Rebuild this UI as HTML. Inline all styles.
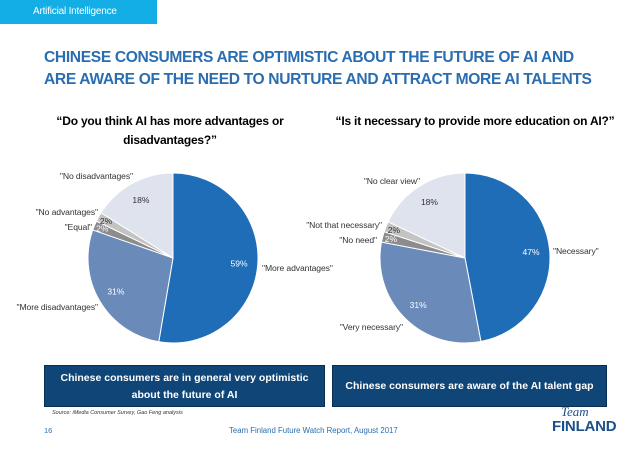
<!DOCTYPE html>
<html><head><meta charset="utf-8"><style>
body{margin:0;width:638px;height:452px;background:#fff;position:relative;overflow:hidden;font-family:"Liberation Sans",sans-serif}
.a{position:absolute}
</style></head><body>
<div class="a" style="left:0;top:0;width:157px;height:24px;background:#14aee6;color:#fff;font-size:10px;letter-spacing:-0.2px;line-height:24px;padding-left:33px;box-sizing:border-box">Artificial Intelligence</div>
<div class="a" style="left:44px;top:47px;width:600px;color:#2a6db0;font-size:15.6px;font-weight:bold;line-height:22px;letter-spacing:-0.35px;white-space:nowrap">CHINESE CONSUMERS ARE OPTIMISTIC ABOUT THE FUTURE OF AI AND<br>ARE AWARE OF THE NEED TO NURTURE AND ATTRACT MORE AI TALENTS</div>
<div class="a" style="left:40px;top:112px;width:260px;text-align:center;font-size:12px;font-weight:bold;line-height:19px;letter-spacing:-0.2px">“Do you think AI has more advantages or<br>disadvantages?”</div>
<div class="a" style="left:320px;top:112px;width:310px;text-align:center;font-size:12px;font-weight:bold;line-height:19px;letter-spacing:-0.2px">“Is it necessary to provide more education on AI?”</div>
<svg class="a" id="charts" style="left:0;top:0" width="638" height="452"></svg>
<div class="a" style="left:44px;top:365px;width:281px;height:42px;background:#0f4577;color:#fff;font-size:10.5px;font-weight:bold;text-align:center;line-height:17px;padding-top:4px;box-sizing:border-box;border:1px solid #0a2e50">Chinese consumers are in general very optimistic<br>about the future of AI</div>
<div class="a" style="left:332px;top:365px;width:275px;height:42px;background:#0f4577;color:#fff;font-size:10.5px;font-weight:bold;text-align:center;line-height:40px;box-sizing:border-box;border:1px solid #0a2e50">Chinese consumers are aware of the AI talent gap</div>
<div class="a" style="left:52px;top:410px;font-size:5.5px;font-style:italic;color:#333">Source: iMedia Consumer Survey, Gao Feng analysis</div>
<div class="a" style="left:44px;top:426px;font-size:7.5px;color:#2a6db0">16</div>
<div class="a" style="left:229px;top:426px;font-size:7.8px;color:#2a6db0">Team Finland Future Watch Report, August 2017</div>
<div class="a" style="left:552px;top:405px;color:#1b4f8a">
<div style="font-family:'Liberation Serif',serif;font-style:italic;font-size:13px;margin-left:9px;line-height:13px">Team</div>
<div style="font-size:15px;font-weight:bold;line-height:17px;letter-spacing:-0.2px">FINLAND</div></div>
<script>
const leftLabels=['"More advantages"','"More disadvantages"','"Equal"','"No advantages"','"No disadvantages"'];
const leftValues=[59,31,2,2,18];
const rightLabels=['"Necessary"','"Very necessary"','"No need"','"Not that necessary"','"No clear view"'];
const rightValues=[47,31,2,2,18];
const colors=['#1f6db6','#6a8ab9','#8c8c8c','#c3c3c3','#dfe3ee'];
const txtCol=['#fff','#fff','#fff','#333','#333'];
const NS='http://www.w3.org/2000/svg';
const svg=document.getElementById('charts');
function el(t,a){const e=document.createElementNS(NS,t);for(const k in a)e.setAttribute(k,a[k]);svg.appendChild(e);return e;}
function pie(cx,cy,r,vals,labels,side,lblPos){
  const tot=vals.reduce((a,b)=>a+b,0);let a0=0;
  vals.forEach((v,i)=>{
    const a1=a0+v/tot*2*Math.PI;
    const p=(a)=>[cx+r*Math.sin(a),cy-r*Math.cos(a)];
    const [x0,y0]=p(a0),[x1,y1]=p(a1);
    const path=el('path',{d:`M${cx},${cy}L${x0},${y0}A${r},${r} 0 ${a1-a0>Math.PI?1:0} 1 ${x1},${y1}Z`,fill:colors[i],stroke:'#fff','stroke-width':1});
    
    
    const m=(a0+a1)/2,rr=(i==2||i==3)?r*0.9:r*0.78;
    const t=el('text',{x:cx+rr*Math.sin(m),y:cy-rr*Math.cos(m)+3,'font-size':8.5,fill:txtCol[i],'text-anchor':'middle'});
    t.textContent=vals[i]+'%';
    
    
    const L=lblPos[i];
    const l=el('text',{x:L[0],y:L[1],'font-size':8.6,fill:'#333','text-anchor':L[2],'letter-spacing':'-0.1'});
    l.textContent=labels[i];
    
    
    a0=a1;
  });
}
pie(173,258,85,leftValues,leftLabels,'left',[[262,271,'start'],[98,310,'end'],[92,230,'end'],[98,215,'end'],[133,179,'end']]);
pie(465,258,85,rightValues,rightLabels,'right',[[553,254,'start'],[403,330,'end'],[377,243,'end'],[382,228,'end'],[420,184,'end']]);
</script>
</body></html>
